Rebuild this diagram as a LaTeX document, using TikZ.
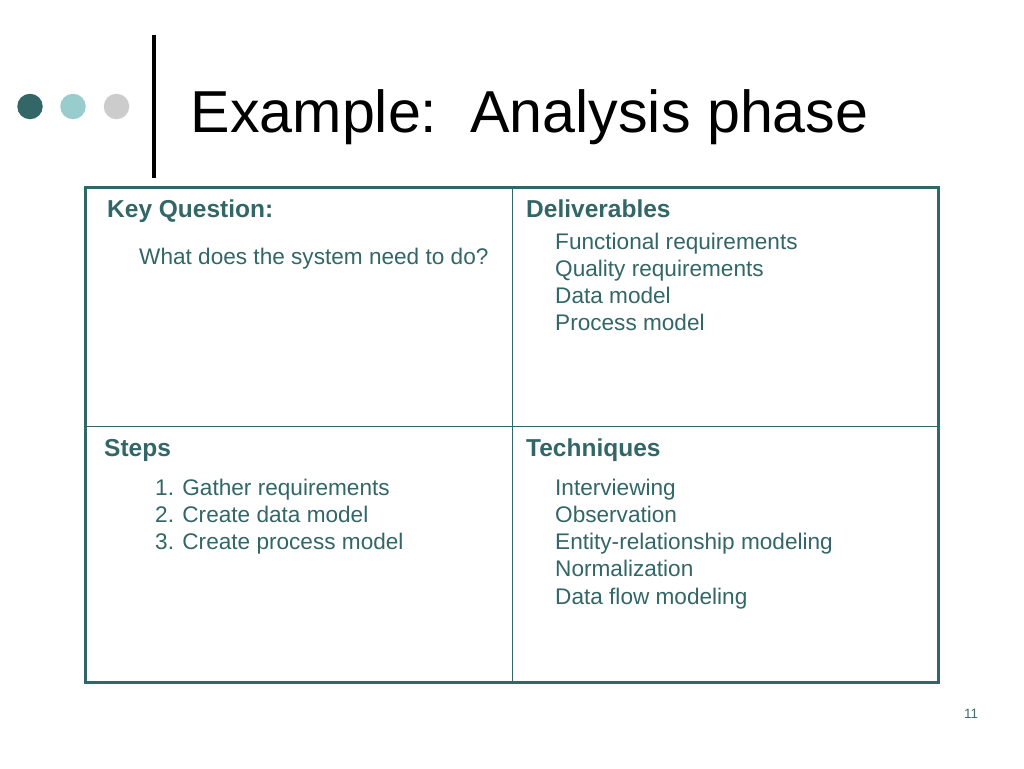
\documentclass[tikz,border=0pt]{standalone}
\usepackage{fontspec}
\setmainfont{Liberation Sans}
\definecolor{teal1}{HTML}{336666}
\definecolor{teallight}{HTML}{99CCCC}
\definecolor{greydot}{HTML}{CCCCCC}
\begin{document}
\begin{tikzpicture}[x=1pt,y=-1pt,
  txt/.style={anchor=base west,inner sep=0pt,text=teal1,font=\fontsize{22.6}{27}\selectfont},
  head/.style={anchor=base west,inner sep=0pt,text=teal1,font=\fontsize{24.5}{29}\selectfont\bfseries},
  dot/.style={circle,inner sep=0pt,minimum size=25.5pt}]
\useasboundingbox (0,0) rectangle (1024,768);
\fill[white] (0,0) rectangle (1024,768);
% dots and bar
\node[dot,fill=teal1] (d1) at (30,106.5) {};
\node[dot,fill=teallight] (d2) at (73,106.5) {};
\node[dot,fill=greydot] (d3) at (116.5,106.5) {};
\draw[line width=4pt,black] (153.5,35) -- (153.5,178);
% title
\node[anchor=base west,inner sep=0pt,font=\fontsize{59.2}{70}\selectfont] (title) at (190.5,132) {Example:\ \ Analysis phase};
% table
\draw[teal1,line width=1.5pt] (512.3,187.3) -- (512.3,682.7);
\draw[teal1,line width=1.5pt] (85,426.5) -- (938.3,426.5);
\draw[teal1,line width=3pt] (85,187.3) rectangle (938.3,682.7);
% cell 1
\node[head] (kq) at (107,217) {Key Question:};
\node[txt] (kq1) at (139,264) {What does the system need to do?};
% cell 2
\node[head] (dl) at (526,217) {Deliverables};
\node[txt] (dl1) at (555,249) {Functional requirements};
\node[txt] (dl2) at (555,276) {Quality requirements};
\node[txt] (dl3) at (555,303) {Data model};
\node[txt] (dl4) at (555,330) {Process model};
% cell 3
\node[head] (st) at (104,456) {Steps};
\node[txt] (st1) at (155,495) {1. Gather requirements};
\node[txt] (st2) at (155,522) {2. Create data model};
\node[txt] (st3) at (155,549) {3. Create process model};
% cell 4
\node[head] (tq) at (526,456) {Techniques};
\node[txt] (tq1) at (555,495) {Interviewing};
\node[txt] (tq2) at (555,522) {Observation};
\node[txt] (tq3) at (555,549) {Entity-relationship modeling};
\node[txt] (tq4) at (555,576) {Normalization};
\node[txt] (tq5) at (555,604) {Data flow modeling};
% page number
\node[anchor=base west,inner sep=0pt,text=teal1!80!gray,font=\fontsize{13.5}{16}\selectfont] (pg) at (964,718) {11};
\end{tikzpicture}
\end{document}
